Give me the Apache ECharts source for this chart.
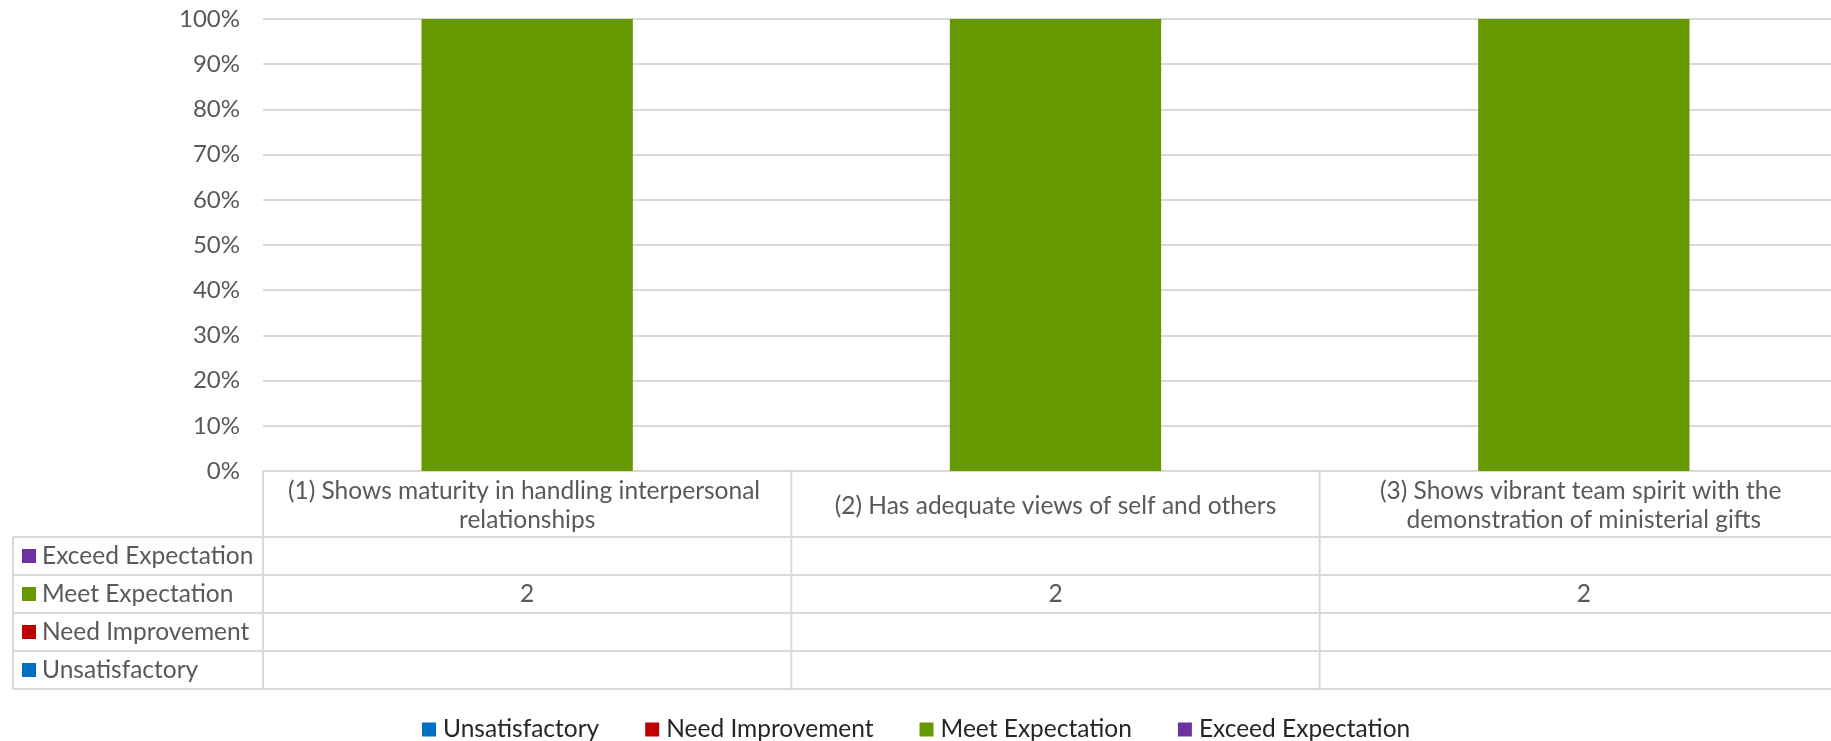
<!DOCTYPE html>
<html><head><meta charset="utf-8">
<script src="https://cdn.jsdelivr.net/npm/echarts@6/dist/echarts.min.js"></script>
<style>html,body{margin:0;padding:0;background:#fff}#c{width:1831px;height:741px}</style>
</head><body><div id="c"></div>
<script>
const categories = [
  '(1) Shows maturity in handling interpersonal relationships',
  '(2) Has adequate views of self and others',
  '(3) Shows vibrant team spirit with the demonstration of ministerial gifts'
];
const seriesNames = ['Unsatisfactory', 'Need Improvement', 'Meet Expectation', 'Exceed Expectation'];
const seriesColors = ['#0070C0', '#C00000', '#669900', '#7030A0'];
const unsatisfactory = [null, null, null];
const needImprovement = [null, null, null];
const meetExpectation = [2, 2, 2];
const exceedExpectation = [null, null, null];
const yTickValues = [0, 0.1, 0.2, 0.3, 0.4, 0.5, 0.6, 0.7, 0.8, 0.9, 1];

const counts = [unsatisfactory, needImprovement, meetExpectation, exceedExpectation];
const totals = categories.map((_, i) => counts.reduce((s, arr) => s + (arr[i] || 0), 0));
const pct = counts.map(arr => arr.map((v, i) => v == null ? null : v / totals[i]));

const FONT = 'Lato';
const TXT = '#595959';
const LINE = '#d9d9d9';
const TFS = 24.5;
const GRID = {left: 263, top: 19, width: 1585, height: 452, outerBoundsMode: 'none'};

const chart = echarts.init(document.getElementById('c'), null, {renderer: 'canvas'});
chart.setOption({
  animation: false,
  backgroundColor: '#fff',
  grid: GRID,
  legend: {
    data: seriesNames,
    left: 422, top: 717, padding: 0,
    icon: 'rect', itemWidth: 14, itemHeight: 14, itemGap: 46,
    textStyle: {fontFamily: FONT, fontSize: 24.5, color: '#262626', padding: [0, 0, 0, 2]}
  },
  xAxis: {
    type: 'category', data: categories,
    axisLine: {show: false}, axisTick: {show: false},
    axisLabel: {
      interval: 0, fontFamily: FONT, fontSize: TFS, color: TXT,
      width: 500, overflow: 'break', lineHeight: 29,
      verticalAlign: 'middle', margin: 35, align: 'center'
    }
  },
  yAxis: {
    type: 'value', min: 0, max: 1, interval: 0.1,
    axisLine: {show: false}, axisTick: {show: false},
    splitLine: {lineStyle: {color: LINE, width: 2}},
    axisLabel: {
      fontFamily: FONT, fontSize: 24, color: TXT, margin: 23,
      formatter: v => Math.round(v * 100) + '%'
    }
  },
  series: seriesNames.map((n, k) => ({
    name: n, type: 'bar', stack: 'total', data: pct[k],
    barWidth: '40%', itemStyle: {color: seriesColors[k]}
  }))
});

// Data table drawn below the plot from the same arrays, positioned via the axis scale
const colX = categories.map((c, i) => chart.convertToPixel({xAxisIndex: 0}, i));
const step = colX.length > 1 ? colX[1] - colX[0] : 500;
const bounds = [colX[0] - step / 2].concat(colX.map(x => x + step / 2));
const yTop = chart.convertToPixel({yAxisIndex: 0}, 0);
const headerBottom = yTop + 66;
const rowH = 38;
const tableLeft = 13;
const rowOrder = [3, 2, 1, 0];
const right = bounds[bounds.length - 1];
const els = [];
const line = (x1, y1, x2, y2) => els.push({type: 'line', shape: {x1, y1, x2, y2}, style: {stroke: LINE, lineWidth: 2}, silent: true});
line(bounds[0], yTop, right, yTop);
for (let r = 0; r <= rowOrder.length; r++) line(tableLeft, headerBottom + r * rowH, right, headerBottom + r * rowH);
const tableBottom = headerBottom + rowOrder.length * rowH;
line(tableLeft, headerBottom, tableLeft, tableBottom);
bounds.forEach(x => line(x, yTop, x, tableBottom));
rowOrder.forEach((k, r) => {
  const cy = headerBottom + r * rowH + rowH / 2;
  els.push({type: 'rect', shape: {x: 22, y: cy - 7, width: 14, height: 14}, style: {fill: seriesColors[k]}, silent: true});
  els.push({type: 'text', x: 42, y: cy, style: {text: seriesNames[k], fill: TXT, fontFamily: FONT, fontSize: TFS, align: 'left', verticalAlign: 'middle', textAlign: 'left', textVerticalAlign: 'middle'}, silent: true});
  counts[k].forEach((v, i) => {
    if (v == null) return;
    els.push({type: 'text', x: colX[i], y: cy, style: {text: String(v), fill: TXT, fontFamily: FONT, fontSize: TFS, align: 'center', verticalAlign: 'middle', textAlign: 'center', textVerticalAlign: 'middle'}, silent: true});
  });
});
chart.setOption({graphic: {elements: els}});
</script></body></html>
